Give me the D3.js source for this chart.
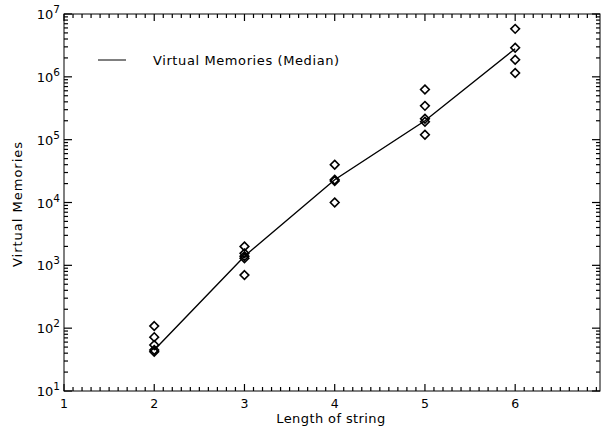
<!DOCTYPE html>
<html>
<head>
<meta charset="utf-8">
<script src="https://cdn.jsdelivr.net/npm/d3@7"></script>
<style>
  body { margin: 0; background: #fff; }
  svg { display: block; font-family: "DejaVu Sans", sans-serif; }
</style>
</head>
<body>
<div id="chart"></div>
<script>
// Virtual memory vs string length (log scale)
const lengths = [2, 3, 4, 5, 6];
const medians = [45, 1400, 23000, 200000, 2800000];
const samples = [
  [2, 108], [2, 72], [2, 54], [2, 45], [2, 42],
  [3, 2000], [3, 1550], [3, 1300], [3, 1400], [3, 700],
  [4, 40000], [4, 23000], [4, 22000], [4, 10000],
  [5, 630000], [5, 345000], [5, 215000], [5, 193000], [5, 120000],
  [6, 5800000], [6, 2900000], [6, 1870000], [6, 1150000]
];
const xTickLabels = [1, 2, 3, 4, 5, 6];
const yDecades = [1, 2, 3, 4, 5, 6, 7];

const W = 603, H = 433;
const margin = { top: 14, right: 3, bottom: 42, left: 64 };

const svg = d3.select('#chart').append('svg')
  .attr('width', W).attr('height', H);

const x = d3.scaleLinear().domain([1, 6.94]).range([margin.left, W - margin.right]);
const y = d3.scaleLog().domain([10, 1e7]).range([H - margin.bottom, margin.top]);

const [x0, x1] = x.range();
const [y0, y1] = y.range();

// frame
svg.append('rect')
  .attr('x', x0).attr('y', y1)
  .attr('width', x1 - x0).attr('height', y0 - y1)
  .attr('fill', 'none').attr('stroke', '#000').attr('stroke-width', 1);

// x ticks (major every 1, minor every 0.1), bottom and top, pointing inward
const xMinor = d3.range(10, 70).map(d => d / 10).filter(d => d <= 6.94);
xMinor.forEach(v => {
  const major = Math.abs(v - Math.round(v)) < 1e-6;
  const len = major ? 7 : 4;
  svg.append('line').attr('x1', x(v)).attr('x2', x(v))
    .attr('y1', y0).attr('y2', y0 - len).attr('stroke', '#000').attr('stroke-width', 1.2);
  svg.append('line').attr('x1', x(v)).attr('x2', x(v))
    .attr('y1', y1).attr('y2', y1 + len).attr('stroke', '#000').attr('stroke-width', 1.2);
});

svg.selectAll('.xlab').data(xTickLabels).join('text')
  .attr('class', 'xlab')
  .attr('x', d => x(d)).attr('y', y0 + 17)
  .attr('text-anchor', 'middle').attr('font-size', '12.5px')
  .text(d => d);

// y ticks (log), left and right
const yTicks = y.ticks();
yTicks.forEach(v => {
  const m = v / Math.pow(10, Math.floor(Math.log10(v) + 1e-9));
  const major = Math.abs(m - 1) < 1e-6;
  const len = major ? 8 : 4;
  svg.append('line').attr('x1', x0).attr('x2', x0 + len)
    .attr('y1', y(v)).attr('y2', y(v)).attr('stroke', '#000').attr('stroke-width', 1.2);
  svg.append('line').attr('x1', x1).attr('x2', x1 - len)
    .attr('y1', y(v)).attr('y2', y(v)).attr('stroke', '#000').attr('stroke-width', 1.2);
});

const ylab = svg.selectAll('.ylab').data(yDecades).join('text')
  .attr('class', 'ylab')
  .attr('x', x0 - 4).attr('y', d => y(Math.pow(10, d)) + 5)
  .attr('text-anchor', 'end').attr('font-size', '13px');
ylab.append('tspan').text('10');
ylab.append('tspan').attr('dy', -6).attr('font-size', '10.5px').text(d => d);

// axis titles
svg.append('text')
  .attr('x', 331).attr('y', y0 + 32)
  .attr('text-anchor', 'middle').attr('font-size', '13px')
  .attr('letter-spacing', '0.4px')
  .text('Length of string');
svg.append('text')
  .attr('transform', `translate(22, 204) rotate(-90)`)
  .attr('text-anchor', 'middle').attr('font-size', '13px')
  .attr('letter-spacing', '1px')
  .text('Virtual Memories');

// median line
const line = d3.line().x((d, i) => x(lengths[i])).y(d => y(d));
svg.append('path').datum(medians)
  .attr('d', line).attr('fill', 'none')
  .attr('stroke', '#000').attr('stroke-width', 1.4);

// sample diamonds
const diamond = d3.symbol().type(d3.symbolDiamond2).size(48);
svg.selectAll('.pt').data(samples).join('path')
  .attr('class', 'pt')
  .attr('transform', d => `translate(${x(d[0])},${y(d[1])})`)
  .attr('d', diamond)
  .attr('fill', 'none').attr('stroke', '#000').attr('stroke-width', 1.6);

// legend
const lg = svg.append('g').attr('transform', `translate(${x0 + 34}, 60)`);
lg.append('line').attr('x1', 0).attr('x2', 28).attr('y1', 0).attr('y2', 0)
  .attr('stroke', '#000').attr('stroke-width', 1);
lg.append('text').attr('x', 55).attr('y', 5)
  .attr('font-size', '13px').attr('letter-spacing', '0.6px')
  .text('Virtual Memories (Median)');
</script>
</body>
</html>
